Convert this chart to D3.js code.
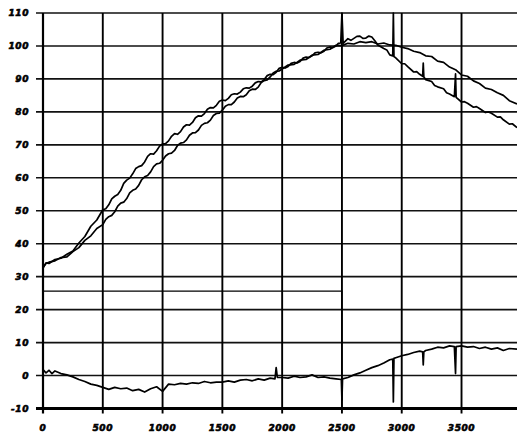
<!DOCTYPE html>
<html>
<head>
<meta charset="utf-8">
<script src="https://cdn.jsdelivr.net/npm/d3@7"></script>
<style>
  html, body { margin: 0; padding: 0; background: #fff; }
  svg { display: block; }
</style>
</head>
<body>
<svg id="chart" width="517" height="437"></svg>
<script>
// Tick values for both axes.
const xTicks = [0, 500, 1000, 1500, 2000, 2500, 3000, 3500];
const yTicks = [110, 100, 90, 80, 70, 60, 50, 40, 30, 20, 10, 0, -10];

// Leading trace: rises first, peaks first, falls first. [time, value]
const traceA = [
  [0, 32.6], [25, 34.2], [50, 34.0], [100, 35.2], [150, 35.6], [200, 36.8], [250, 37.8],
  [300, 40.2], [350, 42.2], [400, 45.3], [450, 47.2], [500, 50.3], [525, 50.6], [550, 51.8],
  [575, 53.6], [600, 54.4], [625, 54.9], [650, 56.2], [675, 58.3], [700, 59.3], [725, 59.9],
  [750, 61.2], [775, 62.8], [800, 63.4], [825, 63.7], [850, 64.8], [875, 66.5], [900, 67.3],
  [925, 67.2], [950, 68.2], [975, 69.6], [1000, 70.3], [1025, 70.4], [1050, 71.2],
  [1075, 72.6], [1100, 73.4], [1125, 73.2], [1150, 74.0], [1175, 75.4], [1200, 76.1],
  [1225, 76.0], [1250, 76.8], [1275, 78.2], [1300, 78.8], [1325, 78.7], [1350, 79.5],
  [1375, 80.8], [1400, 81.3], [1425, 81.2], [1450, 82.0], [1475, 83.2], [1500, 83.6],
  [1525, 83.4], [1550, 84.1], [1575, 85.2], [1600, 85.5], [1625, 85.4], [1650, 86.0],
  [1675, 87.0], [1700, 87.3], [1725, 87.2], [1750, 87.8], [1775, 88.8], [1800, 89.2],
  [1825, 89.1], [1850, 89.8], [1875, 91.0], [1900, 91.4], [1925, 91.3], [1950, 92.0],
  [1975, 93.2], [2000, 93.5], [2025, 93.3], [2050, 93.8], [2075, 94.7], [2100, 95.0],
  [2125, 94.8], [2150, 95.3], [2175, 96.3], [2200, 96.6], [2225, 96.5], [2250, 97.0],
  [2275, 97.9], [2300, 98.1], [2325, 97.9], [2350, 98.4], [2375, 99.4], [2400, 99.7],
  [2425, 99.5], [2450, 100.0], [2470, 100.8], [2490, 100.9], [2500, 110], [2510, 100.8],
  [2550, 102.2], [2575, 101.7], [2600, 102.3], [2625, 102.9], [2650, 103.0], [2675, 102.3],
  [2700, 102.4], [2725, 103.0], [2750, 102.7], [2775, 101.6], [2800, 100.3], [2850, 99.2],
  [2875, 98.8], [2900, 97.3], [2925, 97.0], [2930, 110], [2935, 96.8], [2950, 96.4],
  [3000, 94.6], [3025, 94.6], [3050, 93.7], [3100, 92.1], [3125, 92.2], [3150, 91.4],
  [3175, 90.8], [3180, 94.8], [3185, 90.6], [3200, 89.8], [3250, 89.2], [3275, 88.0],
  [3300, 87.6], [3350, 87.0], [3375, 85.8], [3400, 85.4], [3440, 84.6], [3450, 91.5],
  [3455, 84.4], [3500, 83.0], [3525, 83.1], [3550, 82.6], [3600, 81.4], [3625, 81.6],
  [3650, 81.0], [3700, 79.8], [3725, 80.0], [3750, 79.6], [3800, 78.4], [3825, 78.5],
  [3850, 77.6], [3900, 76.3], [3925, 76.4], [3964, 75.2]
];

// Lagging trace.
const traceB = [
  [0, 32.8], [25, 34.0], [50, 34.4], [100, 34.8], [150, 35.8], [200, 36.0], [250, 37.6],
  [300, 38.8], [350, 41.0], [400, 42.4], [450, 44.6], [500, 45.8], [525, 47.4], [550, 48.2],
  [575, 48.6], [600, 49.7], [625, 51.4], [650, 52.3], [675, 52.6], [700, 53.7], [725, 55.4],
  [750, 56.2], [775, 56.6], [800, 57.7], [825, 59.4], [850, 60.3], [875, 60.7], [900, 61.8],
  [925, 63.4], [950, 64.2], [975, 64.4], [1000, 65.3], [1025, 66.6], [1050, 67.3],
  [1075, 67.5], [1100, 68.3], [1125, 69.8], [1150, 70.5], [1175, 70.7], [1200, 71.5],
  [1225, 72.9], [1250, 73.6], [1275, 73.7], [1300, 74.5], [1325, 75.9], [1350, 76.5],
  [1375, 76.7], [1400, 77.5], [1425, 78.9], [1450, 79.5], [1475, 79.6], [1500, 80.5],
  [1525, 81.7], [1550, 82.2], [1575, 82.2], [1600, 83.0], [1625, 84.2], [1650, 84.7],
  [1675, 84.6], [1700, 85.2], [1725, 86.4], [1750, 86.9], [1775, 86.8], [1800, 87.5],
  [1825, 88.9], [1850, 89.5], [1875, 89.7], [1900, 90.6], [1925, 91.8], [1950, 92.3],
  [1975, 92.4], [2000, 93.0], [2050, 94.2], [2100, 94.4], [2150, 95.7], [2200, 95.9],
  [2250, 97.2], [2300, 97.4], [2350, 98.7], [2400, 99.0], [2450, 100.2], [2500, 100.1],
  [2550, 100.8], [2600, 100.6], [2650, 101.3], [2700, 101.0], [2750, 101.3], [2800, 100.6],
  [2850, 100.9], [2900, 100.3], [2950, 100.2], [3000, 99.6], [3050, 99.2], [3100, 98.4],
  [3150, 98.0], [3200, 97.0], [3250, 96.8], [3300, 95.4], [3350, 95.0], [3400, 93.6],
  [3450, 92.8], [3500, 91.2], [3550, 90.8], [3600, 89.4], [3650, 88.6], [3700, 87.2],
  [3750, 86.8], [3800, 85.8], [3850, 85.0], [3900, 83.4], [3964, 82.4]
];

// Difference trace (lagging minus leading).
const traceDiff = [
  [0, 1.8], [25, 0.8], [50, 1.6], [75, 0.6], [100, 1.4], [150, 0.6], [200, 0.2], [250, -0.4],
  [300, -1.2], [350, -1.8], [400, -2.6], [450, -3.0], [500, -3.6], [550, -4.2], [600, -3.6],
  [650, -4.0], [700, -3.8], [750, -4.6], [800, -4.2], [850, -5.0], [900, -4.0], [950, -3.4],
  [1000, -4.8], [1050, -2.6], [1100, -2.8], [1150, -2.4], [1200, -2.6], [1250, -2.2],
  [1300, -2.4], [1350, -1.8], [1400, -2.2], [1450, -2.0], [1500, -2.0], [1550, -1.6],
  [1600, -2.0], [1650, -1.4], [1700, -1.2], [1750, -1.6], [1800, -1.0], [1850, -1.4],
  [1900, -0.8], [1940, -1.0], [1950, 2.4], [1960, -0.6], [2000, -0.6], [2050, -0.8],
  [2100, -0.2], [2150, -0.6], [2200, -0.4], [2250, 0.2], [2300, -0.6], [2350, -0.4],
  [2400, -0.8], [2450, -1.0], [2495, -1.2], [2500, -7.5], [2505, -1.0], [2550, -0.6],
  [2600, 0.2], [2650, 0.8], [2700, 1.6], [2750, 2.4], [2800, 3.0], [2850, 3.8], [2900, 4.8],
  [2925, 5.0], [2930, -8.0], [2935, 5.2], [2950, 5.4], [3000, 6.0], [3050, 6.4], [3100, 7.0],
  [3150, 7.4], [3175, 7.2], [3180, 3.2], [3185, 7.2], [3200, 7.6], [3250, 8.0], [3300, 8.6],
  [3350, 8.4], [3400, 9.0], [3440, 8.8], [3450, 0.6], [3455, 8.8], [3500, 9.0], [3550, 8.6],
  [3600, 8.8], [3650, 8.2], [3700, 8.6], [3750, 8.0], [3800, 8.4], [3850, 7.6], [3900, 8.2],
  [3964, 8.0]
];

// Step signal: on until 2500, then off.
const stepSignal = [[0, 25.6], [2500, 25.6], [2500, -10], [3964, -10]];

const W = 517, H = 437;
const INK = '#000';
const FONT = '"DejaVu Sans", sans-serif';

const svg = d3.select('#chart');

const x = d3.scaleLinear().domain([0, 3964]).range([43, 517]);
const y = d3.scaleLinear().domain([-10, 110]).range([408.5, 13]);

// Grid: horizontal lines poke a little left of the axis, verticals a little below.
const grid = svg.append('g');
grid.selectAll('line.h')
  .data(yTicks.filter(v => v !== -10))
  .join('line')
  .attr('class', 'h')
  .attr('x1', 36).attr('x2', W)
  .attr('y1', d => y(d)).attr('y2', d => y(d))
  .style('stroke', '#111').style('stroke-width', '1.6');
grid.selectAll('line.v')
  .data(xTicks)
  .join('line')
  .attr('class', 'v')
  .attr('x1', d => x(d)).attr('x2', d => x(d))
  .attr('y1', y(110)).attr('y2', y(-10) + 5)
  .style('stroke', INK).style('stroke-width', d => d === 0 ? '2.2' : '1.9');

// Heavy baseline at -10
svg.append('line')
  .attr('x1', 36).attr('x2', W)
  .attr('y1', y(-10)).attr('y2', y(-10))
  .style('stroke', INK).style('stroke-width', '3');

const line = d3.line().x(d => x(d[0])).y(d => y(d[1]));

svg.append('path')
  .datum(stepSignal)
  .attr('d', line)
  .style('fill', 'none').style('stroke', INK).style('stroke-width', '1.1');

for (const series of [traceA, traceB, traceDiff]) {
  svg.append('path')
    .datum(series)
    .attr('d', line)
    .style('fill', 'none').style('stroke', INK)
    .style('stroke-width', '1.7').style('stroke-linejoin', 'round');
}

// Tick labels — heavy oblique, as in the scanned plot (stroke fattens the glyphs).
function styleLabel(sel) {
  sel.style('font-family', FONT).style('font-size', '9px')
    .style('font-weight', '700').style('font-style', 'italic')
    .style('letter-spacing', '0.6px')
    .style('fill', INK).style('stroke', INK).style('stroke-width', '0.6');
}

svg.append('g').selectAll('text')
  .data(yTicks)
  .join('text')
  .attr('x', 29).attr('y', d => y(d) + 3.3)
  .attr('text-anchor', 'end')
  .call(styleLabel)
  .text(d => d);

svg.append('g').selectAll('text')
  .data(xTicks)
  .join('text')
  .attr('x', d => x(d)).attr('y', 431)
  .attr('text-anchor', 'middle')
  .call(styleLabel)
  .text(d => d);
</script>
</body>
</html>
